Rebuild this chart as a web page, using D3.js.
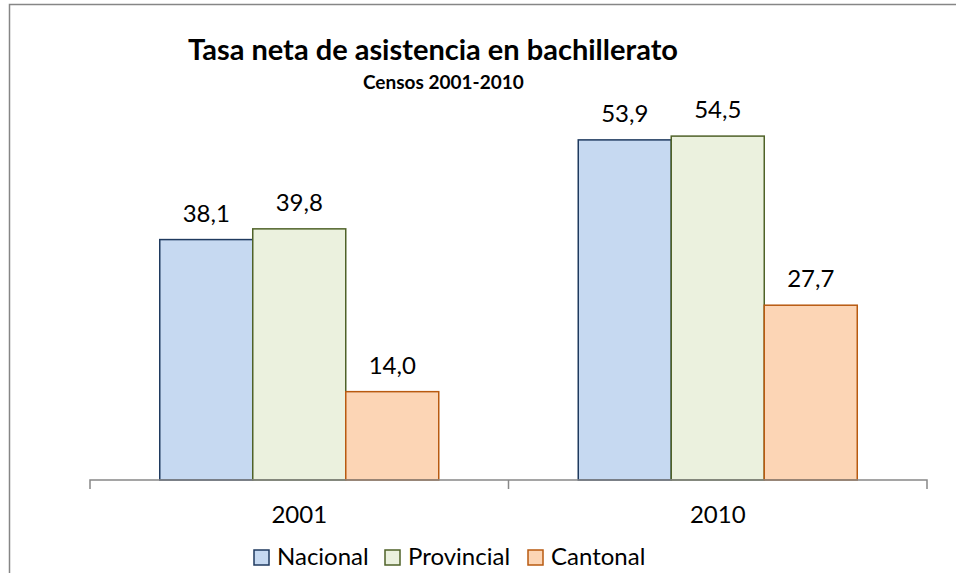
<!DOCTYPE html>
<html>
<head>
<meta charset="utf-8">
<script src="https://cdn.jsdelivr.net/npm/d3@7"></script>
<style>
  body { margin: 0; background: #fff; }
  svg { display: block; font-family: Lato, "Open Sans", sans-serif; }
</style>
</head>
<body>
<div id="chart-area"></div>
<script>
const years = ["2001", "2010"];
const seriesNames = ["Nacional", "Provincial", "Cantonal"];
const nacional = [38.1, 53.9];
const provincial = [39.8, 54.5];
const cantonal = [14.0, 27.7];
const fills = ["#c6d9f1", "#ebf1de", "#fcd5b5"];
const strokes = ["#1f3a5f", "#4f6228", "#b85a10"];

const svgWidth = 956, svgHeight = 573;
const rows = years.map((y, i) => ({ year: y, values: [nacional[i], provincial[i], cantonal[i]] }));

const svg = d3.select("#chart-area")
    .append("svg")
    .attr("width", svgWidth)
    .attr("height", svgHeight);

// outer frame (right and bottom edges fall outside the picture)
svg.append("rect")
    .attr("x", 9.5).attr("y", 4.5)
    .attr("width", 970).attr("height", 600)
    .attr("fill", "none")
    .attr("stroke", "#868686")
    .attr("stroke-width", 1.5);

const x0 = d3.scaleBand().domain(years).range([90, 927]);
const x1 = d3.scaleBand().domain(seriesNames).range([0, x0.bandwidth()]).paddingInner(0).paddingOuter(0.75);
const y = d3.scaleLinear().domain([0, 60]).range([480, 101.4]);

const groups = svg.selectAll(".grp")
    .data(rows)
    .join("g")
    .attr("class", "grp")
    .attr("transform", d => `translate(${x0(d.year)},0)`);

groups.selectAll("rect")
    .data(d => d.values.map((v, i) => ({ name: seriesNames[i], v, i })))
    .join("rect")
    .attr("x", d => x1(d.name))
    .attr("y", d => y(d.v))
    .attr("width", x1.bandwidth())
    .attr("height", d => y(0) - y(d.v))
    .attr("fill", d => fills[d.i])
    .attr("stroke", d => strokes[d.i])
    .attr("stroke-width", 1.5);

groups.selectAll(".lbl")
    .data(d => d.values.map((v, i) => ({ name: seriesNames[i], v, i })))
    .join("text")
    .attr("class", "lbl")
    .attr("x", d => x1(d.name) + x1.bandwidth() / 2)
    .attr("y", d => y(d.v) - 18)
    .attr("text-anchor", "middle")
    .style("font-size", "24px")
    .attr("fill", "#000")
    .text(d => d.v.toFixed(1).replace(".", ","));

// x axis
const xAxis = svg.append("g")
    .attr("transform", "translate(0,480)")
    .call(d3.axisBottom(x0).tickSize(0).tickPadding(0));
xAxis.select(".domain").remove();
xAxis.selectAll("text")
    .attr("dy", null)
    .attr("y", 43)
    .style("font-size", "24px")
    .style("font-family", "Lato, 'Open Sans', sans-serif")
    .attr("fill", "#000");
xAxis.append("path")
    .attr("d", `M90,9V0H927V9`)
    .attr("fill", "none")
    .attr("stroke", "#888")
    .attr("stroke-width", 1.5);
xAxis.selectAll(".sep")
    .data(years.slice(1))
    .join("line")
    .attr("x1", d => x0(d)).attr("x2", d => x0(d))
    .attr("y1", 0).attr("y2", 9)
    .attr("stroke", "#888")
    .attr("stroke-width", 1.5);

// title
svg.append("text")
    .attr("x", 188).attr("y", 60)
    .style("font-size", "29px")
    .style("font-weight", "bold")
    .text("Tasa neta de asistencia en bachillerato");
svg.append("text")
    .attr("x", 363).attr("y", 89)
    .style("font-size", "19px")
    .style("font-weight", "bold")
    .text("Censos 2001-2010");

// legend
const legendX = [254, 385, 528];
const legend = svg.selectAll(".leg")
    .data(seriesNames)
    .join("g")
    .attr("class", "leg")
    .attr("transform", (d, i) => `translate(${legendX[i]},550)`);
legend.append("rect")
    .attr("width", 15).attr("height", 15)
    .attr("fill", (d, i) => fills[i])
    .attr("stroke", (d, i) => strokes[i])
    .attr("stroke-width", 1.5);
legend.append("text")
    .attr("x", 23).attr("y", 15)
    .style("font-size", "24px")
    .text(d => d);
</script>
</body>
</html>
